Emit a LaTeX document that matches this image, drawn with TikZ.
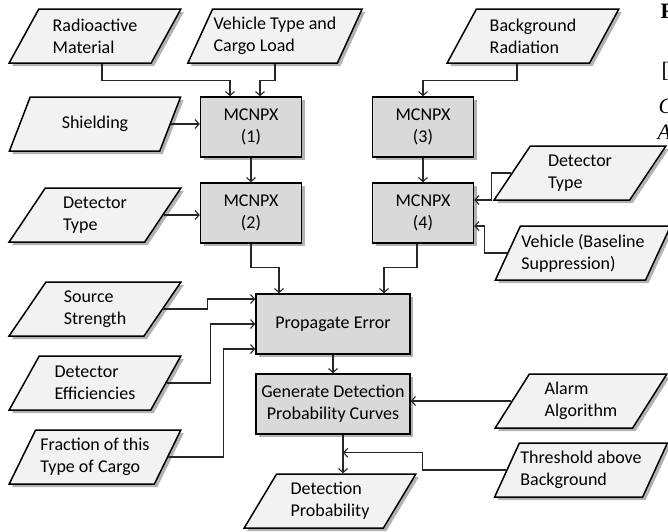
\documentclass[tikz,border=0pt]{standalone}
\usepackage{fontspec}
\setmainfont{Carlito}
\newfontfamily\pagefont{Liberation Serif}
\usetikzlibrary{shapes.geometric,shadows,arrows.meta}

\begin{document}
\begin{tikzpicture}[x=1pt, y=-1pt, >={Straight Barb[length=4pt,width=9pt]},
    font=\fontsize{18}{22}\selectfont,
    shade/.style={drop shadow={shadow xshift=3pt, shadow yshift=-3pt, fill=black!60, opacity=0.5}},
    data/.style={draw, line width=1.5pt, fill=black!5, shade, trapezium,
        trapezium left angle=58, trapezium right angle=122, trapezium stretches=true,
        minimum width=172pt, minimum height=54pt, align=left, inner sep=1pt},
    proc/.style={draw, line width=1.5pt, fill=black!15, shade,
        minimum width=101pt, minimum height=60pt, align=center, inner sep=1pt},
    link/.style={->, line width=1.1pt, black!85}]
    \useasboundingbox (0,0) rectangle (668,531);

    % Inputs
    \node[data] (radmat)   at (95,36)    {Radioactive\\Material};
    \node[data] (vehcargo) at (275,36)   {Vehicle Type and\\Cargo Load};
    \node[data] (shield)   at (95,124)   {Shielding};
    \node[data] (dettypea) at (95,215)   {Detector\\Type};
    \node[data] (srcstr)   at (95,309)   {Source\\Strength};
    \node[data] (deteff)   at (95,383)   {Detector\\Efficiencies};
    \node[data] (fraction) at (95,457)   {Fraction of this\\Type of Cargo};
    \node[data] (bgrad)    at (533,36)   {Background\\Radiation};
    \node[data] (dettypeb) at (580,173)  {Detector\\Type};
    \node[data] (vehbase)  at (583,253)  {Vehicle (Baseline\\Suppression)};
    \node[data] (alarm)    at (581,401)  {Alarm\\Algorithm};
    \node[data] (thresh)   at (581,470)  {Threshold above\\Background};
    \node[data] (detprob)  at (330,501)  {Detection\\Probability};

    % Processing
    \node[proc] (mca)  at (251,127) {MCNPX\\(1)};
    \node[proc] (mcb)  at (251,213) {MCNPX\\(2)};
    \node[proc] (mcc)  at (423,127) {MCNPX\\(3)};
    \node[proc] (mcd)  at (423,213) {MCNPX\\(4)};
    \node[proc, minimum width=154pt] (prop) at (333,324) {Propagate Error};
    \node[proc, minimum width=154pt] (gen)  at (333,404) {Generate Detection\\Probability Curves};

    % Connectors
    \draw[link] ([xshift=7pt]radmat.south) -- ++(0,17) -| ([xshift=-21pt]mca.north);
    \draw[link] (vehcargo.south) -- ++(0,17) -| ([xshift=9pt]mca.north);
    \draw[link] (shield.east) -- (shield.east -| mca.west);
    \draw[link] (mca) -- (mcb);
    \draw[link] (dettypea.east) -- (dettypea.east -| mcb.west);
    \draw[link] (mcb.south) -- ++(0,24) -| ([xshift=-54pt]prop.north);
    \draw[link] ([xshift=-16pt]bgrad.south) -- ++(0,17) -| (mcc.north);
    \draw[link] (mcc) -- (mcd);
    \draw[link] (dettypeb.west) -- ++(-20,0) |- ([yshift=13pt]mcd.east);
    \draw[link] (vehbase.west) -- ++(-23,0) |- ([yshift=-13pt]mcd.east);
    \draw[link] ([xshift=-6pt]mcd.south) -- ++(0,24) -| ([xshift=51pt]prop.north);
    \draw[link] (srcstr.east) -- ++(44,0) |- ([yshift=25pt]prop.west);
    \draw[link] (deteff.east) -- ++(44,0) |- (prop.west);
    \draw[link] (fraction.east) -- ++(55,0) |- ([yshift=-25pt]prop.west);
    \draw[link] (prop) -- (gen);
    \draw[link] (alarm.west) -- (alarm.west -| gen.east);
    \coordinate (join) at ([xshift=10pt,yshift=-18pt]gen.south);
    \draw[link] ([xshift=10pt]gen.south) -- ([xshift=10pt]gen.south |- detprob.north);
    \draw[link] (thresh.west) -- ++(-84,0) |- (join);

    % Page text cut off at the edge
    \node[anchor=base west, font=\pagefont\fontsize{22}{26}\selectfont\bfseries] (pgf) at (657,18) {F};
    \node[anchor=base west, font=\pagefont\fontsize{22}{26}\selectfont] (pgb) at (658,77) {[1};
    \node[anchor=base west, font=\pagefont\fontsize{22}{26}\selectfont\itshape] (pgc) at (655,113) {C};
    \node[anchor=base west, font=\pagefont\fontsize{22}{26}\selectfont\itshape] (pga) at (654,139) {A};
\end{tikzpicture}
\end{document}
